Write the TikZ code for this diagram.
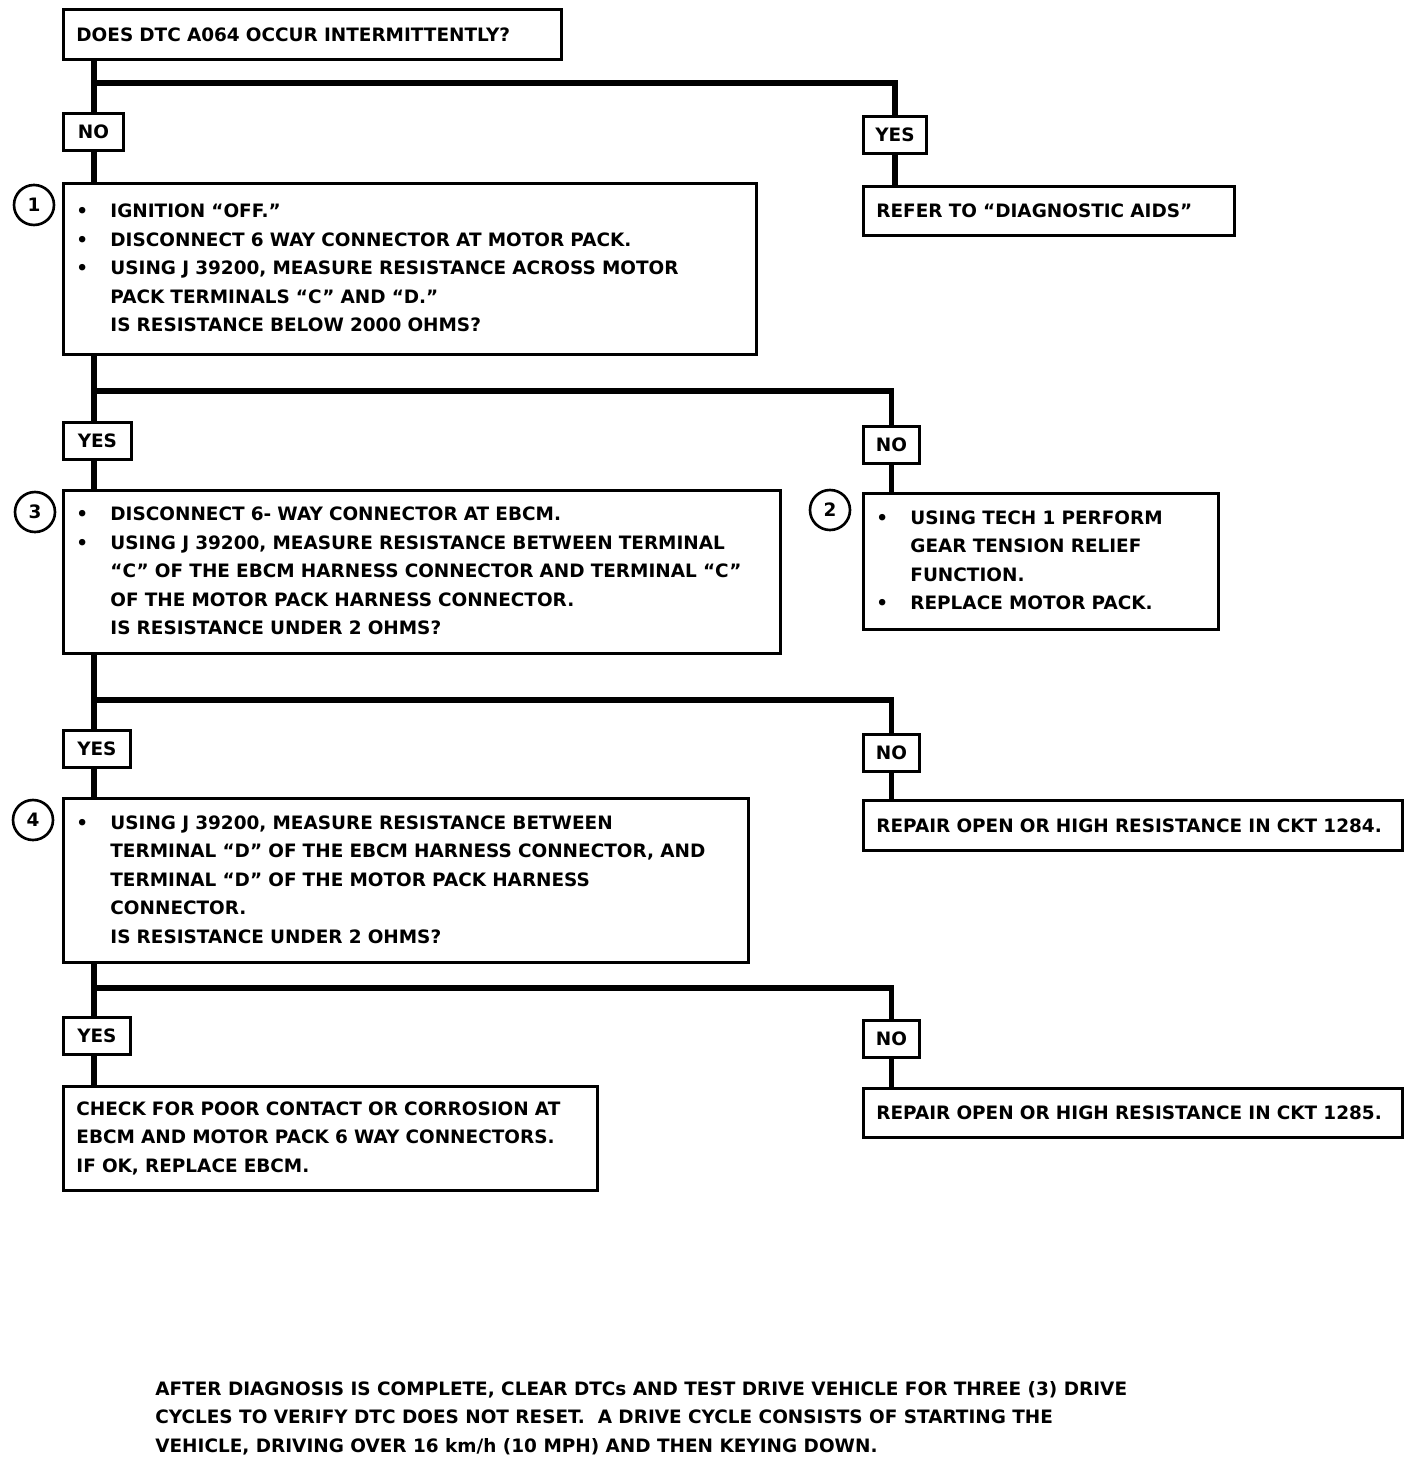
\documentclass[tikz,border=0pt]{standalone}
\usepackage{fontspec}
\setmainfont{DejaVu Sans}
\newlength\px
\setlength\px{0.02cm}
\tikzset{
  box/.style={draw, line width=1.6pt, anchor=north west, inner xsep=13\px, inner ysep=0pt,
    align=left, font=\bfseries\fontsize{10.5}{16.2}\selectfont},
  ans/.style={draw, line width=1.6pt, anchor=north west, inner sep=0pt, minimum height=37\px,
    font=\bfseries\fontsize{10.5}{12}\selectfont},
  stepno/.style={circle, draw, line width=1.5pt, minimum size=40\px, inner sep=0pt,
    font=\bfseries\fontsize{10.5}{12}\selectfont},
  link/.style={line width=3.2pt},
  note/.style={anchor=north west, inner sep=0pt, align=left,
    font=\bfseries\fontsize{10.5}{16.2}\selectfont},
}
\newenvironment{steps}{\begin{tabular}{@{}p{34\px}@{}l@{}}}{\end{tabular}}
\begin{document}
\begin{tikzpicture}[x=0.02cm,y=-0.02cm]
  \useasboundingbox (0,0) rectangle (1424,1466);
  % questions and actions
  \node[box, text width=472\px, minimum height=50\px] (q0) at (62,8)
    {DOES DTC A064 OCCUR INTERMITTENTLY?};
  \node[box, text width=667\px, minimum height=171\px] (q1) at (62,182) {\begin{steps}
    \textbullet & IGNITION ``OFF.''\\
    \textbullet & DISCONNECT 6 WAY CONNECTOR AT MOTOR PACK.\\
    \textbullet & USING J 39200, MEASURE RESISTANCE ACROSS MOTOR\\
                & PACK TERMINALS ``C'' AND ``D.''\\
                & IS RESISTANCE BELOW 2000 OHMS?
    \end{steps}};
  \node[box, text width=345\px, minimum height=49\px] (aids) at (862,185)
    {REFER TO ``DIAGNOSTIC AIDS''};
  \node[box, text width=691\px, minimum height=163\px] (q3) at (62,489) {\begin{steps}
    \textbullet & DISCONNECT 6- WAY CONNECTOR AT EBCM.\\
    \textbullet & USING J 39200, MEASURE RESISTANCE BETWEEN TERMINAL\\
                & ``C'' OF THE EBCM HARNESS CONNECTOR AND TERMINAL ``C''\\
                & OF THE MOTOR PACK HARNESS CONNECTOR.\\
                & IS RESISTANCE UNDER 2 OHMS?
    \end{steps}};
  \node[box, text width=329\px, minimum height=136\px] (act2) at (862,492) {\begin{steps}
    \textbullet & USING TECH 1 PERFORM\\
                & GEAR TENSION RELIEF\\
                & FUNCTION.\\
    \textbullet & REPLACE MOTOR PACK.
    \end{steps}};
  \node[box, text width=659\px, minimum height=164\px] (q4) at (62,797) {\begin{steps}
    \textbullet & USING J 39200, MEASURE RESISTANCE BETWEEN\\
                & TERMINAL ``D'' OF THE EBCM HARNESS CONNECTOR, AND\\
                & TERMINAL ``D'' OF THE MOTOR PACK HARNESS\\
                & CONNECTOR.\\
                & IS RESISTANCE UNDER 2 OHMS?
    \end{steps}};
  \node[box, text width=513\px, minimum height=50\px] (fix84) at (862,799)
    {REPAIR OPEN OR HIGH RESISTANCE IN CKT 1284.};
  \node[box, text width=508\px, minimum height=104\px] (check) at (62,1085)
    {CHECK FOR POOR CONTACT OR CORROSION AT\\
     EBCM AND MOTOR PACK 6 WAY CONNECTORS.\\
     IF OK, REPLACE EBCM.};
  \node[box, text width=513\px, minimum height=49\px] (fix85) at (862,1087)
    {REPAIR OPEN OR HIGH RESISTANCE IN CKT 1285.};
  % answers
  \node[ans, minimum width=60\px] (no0) at (62,112) {NO};
  \node[ans, minimum width=63\px] (yes0) at (862,115) {YES};
  \node[ans, minimum width=68\px] (yes1) at (62,421) {YES};
  \node[ans, minimum width=56\px] (no1) at (862,425) {NO};
  \node[ans, minimum width=67\px] (yes3) at (62,729) {YES};
  \node[ans, minimum width=56\px] (no3) at (862,733) {NO};
  \node[ans, minimum width=67\px] (yes4) at (62,1016) {YES};
  \node[ans, minimum width=56\px] (no4) at (862,1019) {NO};
  % step numbers
  \node[stepno] (n1) at (34,205) {1};
  \node[stepno] (n3) at (35,512) {3};
  \node[stepno] (n2) at (830,510) {2};
  \node[stepno] (n4) at (33,820) {4};
  % branches
  \foreach \up/\lft/\rgt/\lo/\ro/\y in {q0/no0/yes0/q1/aids/83, q1/yes1/no1/q3/act2/391,
      q3/yes3/no3/q4/fix84/700, q4/yes4/no4/check/fix85/988} {
    \coordinate (j) at (94,\y);
    \draw[link] (\up.south -| j) -- (\lft.north -| j);
    \draw[link] (j) -| (\rgt.north);
    \draw[link] (\lft.south -| j) -- (\lo.north -| j);
    \draw[link] (\rgt.south) -- (\ro.north -| \rgt.south);
  }
  \node[note] (after) at (155,1381)
    {AFTER DIAGNOSIS IS COMPLETE, CLEAR DTCs AND TEST DRIVE VEHICLE FOR THREE (3) DRIVE\\
     CYCLES TO VERIFY DTC DOES NOT RESET.\ \ A DRIVE CYCLE CONSISTS OF STARTING THE\\
     VEHICLE, DRIVING OVER 16 km/h (10 MPH) AND THEN KEYING DOWN.};
\end{tikzpicture}
\end{document}
